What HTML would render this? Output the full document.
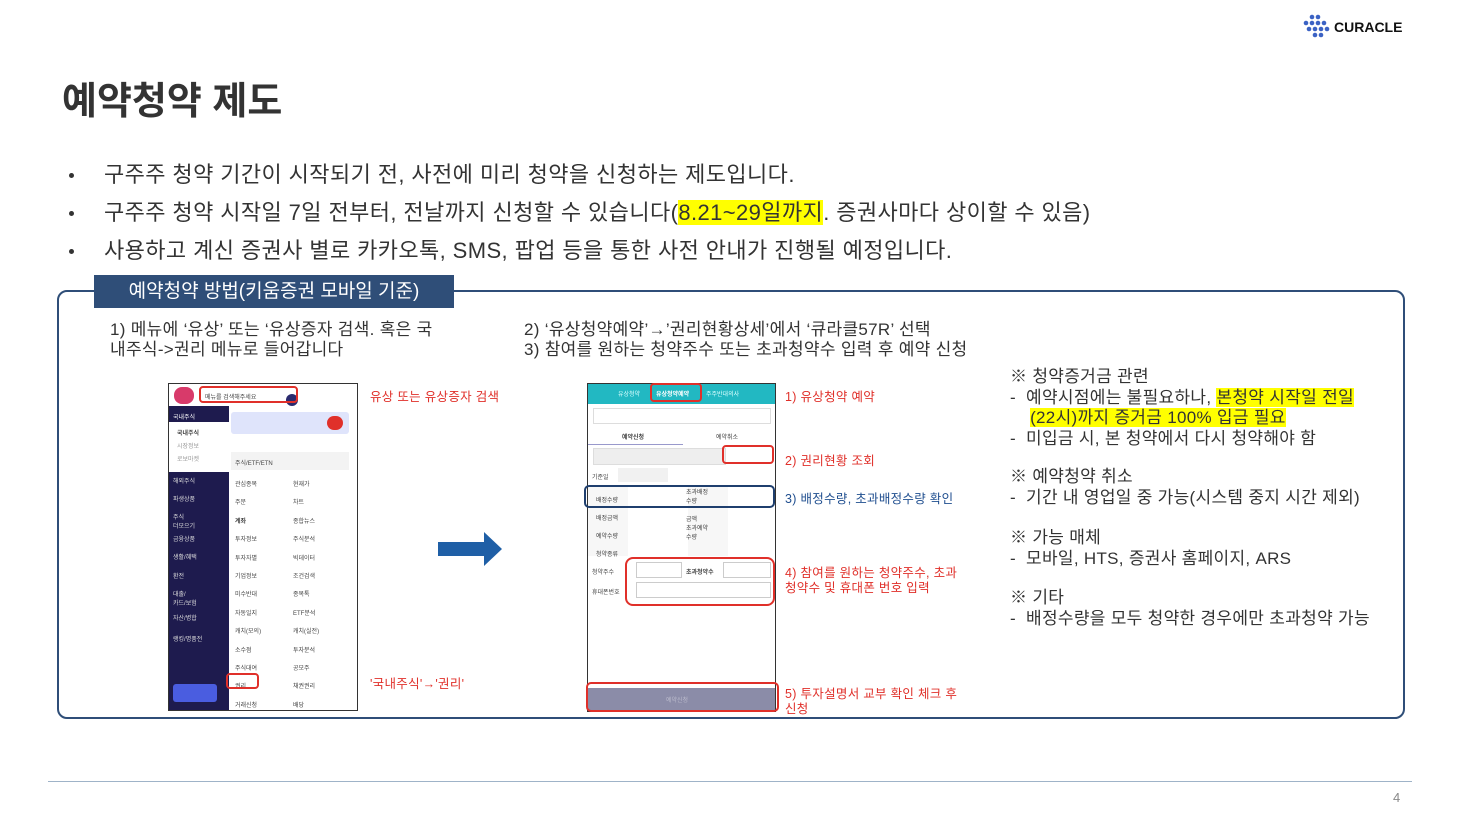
<!DOCTYPE html>
<html><head><meta charset="utf-8"><style>
*{margin:0;padding:0;box-sizing:border-box}
body{width:1461px;height:822px;background:#fff;position:relative;overflow:hidden;font-family:"Liberation Sans","Noto Sans CJK KR",sans-serif;color:#333}
.a{position:absolute;white-space:nowrap}
.b{font-size:22px;color:#333;letter-spacing:0.4px}
.dot{position:absolute;width:5px;height:5px;border-radius:50%;background:#333;left:69px}
.r{color:#e0302a;font-size:12.5px}
.t{font-size:17px;color:#333;line-height:20px}
.hl{background:#ffff00}
.red{position:absolute;border:2px solid #e0302a;border-radius:4px}
.sm{position:absolute;font-size:6px;color:#444;white-space:nowrap}
</style></head><body>
<div class="a" style="left:1302px;top:14px;">
<svg width="30" height="26" viewBox="0 0 30 26"><g fill="#3b62c4"><circle cx="10" cy="3" r="2.3"/><circle cx="16" cy="3" r="2.3"/><circle cx="4" cy="9" r="2.3"/><circle cx="10" cy="9" r="2.3"/><circle cx="16" cy="9" r="2.3"/><circle cx="22" cy="9" r="2.3"/><circle cx="7" cy="15" r="2.3"/><circle cx="13" cy="15" r="2.3"/><circle cx="19" cy="15" r="2.3"/><circle cx="25" cy="15" r="2.3"/><circle cx="13" cy="21" r="2.3"/><circle cx="19" cy="21" r="2.3"/></g></svg></div>
<div class="a" style="left:1334px;top:19px;font-size:14px;font-weight:bold;color:#111">CURACLE</div>
<div class="a" style="left:62px;top:70px;font-size:38px;font-weight:bold;color:#333">예약청약 제도</div>
<div class="dot" style="top:173px"></div>
<div class="a b" style="left:104px;top:157px">구주주 청약 기간이 시작되기 전, 사전에 미리 청약을 신청하는 제도입니다.</div>
<div class="dot" style="top:211px"></div>
<div class="a b" style="left:104px;top:195px">구주주 청약 시작일 7일 전부터, 전날까지 신청할 수 있습니다(<span class="hl">8.21~29일까지</span>. 증권사마다 상이할 수 있음)</div>
<div class="dot" style="top:249px"></div>
<div class="a b" style="left:104px;top:233px">사용하고 계신 증권사 별로 카카오톡, SMS, 팝업 등을 통한 사전 안내가 진행될 예정입니다.</div>

<div class="a" style="left:57px;top:290px;width:1348px;height:429px;border:2px solid #2f4e78;border-radius:10px"></div>
<div class="a" style="left:94px;top:275px;width:360px;height:33px;background:#2f4e78;color:#fff;font-size:19px;text-align:center;line-height:33px">예약청약 방법(키움증권 모바일 기준)</div>

<div class="a t" style="left:110px;top:320px;letter-spacing:0.3px">1) 메뉴에 ‘유상’ 또는 ‘유상증자 검색. 혹은 국<br>내주식-&gt;권리 메뉴로 들어갑니다</div>
<div class="a t" style="left:524px;top:320px;letter-spacing:0.3px">2) ‘유상청약예약’→’권리현황상세’에서 ‘큐라클57R’ 선택<br>3) 참여를 원하는 청약주수 또는 초과청약수 입력 후 예약 신청</div>

<!-- left phone -->
<div class="a" style="left:168px;top:383px;width:190px;height:328px;border:1px solid #333;background:#fff;overflow:hidden">
 <div style="position:absolute;left:5px;top:3px;width:20px;height:17px;border-radius:8px;background:#d83a6a"></div>
 <div style="position:absolute;left:0;top:22px;width:60px;height:306px;background:#1e1b4e"></div>
 <div style="position:absolute;left:0;top:38px;width:60px;height:50px;background:#fff"></div>
 <div style="position:absolute;left:62px;top:28px;width:118px;height:22px;background:#dfe4fb;border-radius:3px"></div>
 <div style="position:absolute;left:158px;top:32px;width:16px;height:14px;border-radius:7px;background:#e0302a"></div>
 <div style="position:absolute;left:62px;top:68px;width:118px;height:18px;background:#f3f3f3"></div>
 <div style="position:absolute;left:117px;top:10px;width:12px;height:12px;border-radius:6px;background:#2a2a6e"></div>
 <div class="sm" style="left:36px;top:8px">메뉴를 검색해주세요</div>
 <div class="sm" style="left:4px;top:28px;color:#fff">국내주식</div>
 <div class="sm" style="left:8px;top:44px;font-weight:bold">국내주식</div>
 <div class="sm" style="left:8px;top:57px;color:#999">시장정보</div>
 <div class="sm" style="left:8px;top:70px;color:#999">로보마켓</div>
 <div class="sm" style="left:4px;top:92px;color:#ddd">해외주식</div>
 <div class="sm" style="left:4px;top:110px;color:#ddd">파생상품</div>
 <div class="sm" style="left:4px;top:128px;color:#ddd">주식<br>더모으기</div>
 <div class="sm" style="left:4px;top:150px;color:#ddd">금융상품</div>
 <div class="sm" style="left:4px;top:168px;color:#ddd">생활/혜택</div>
 <div class="sm" style="left:4px;top:187px;color:#ddd">환전</div>
 <div class="sm" style="left:4px;top:205px;color:#ddd">대출/<br>카드/보험</div>
 <div class="sm" style="left:4px;top:229px;color:#ddd">자산/병합</div>
 <div class="sm" style="left:4px;top:250px;color:#ddd">랭킹/명품전</div>
 <div style="position:absolute;left:4px;top:300px;width:44px;height:18px;background:#4a5de0;border-radius:3px"></div>
 <div class="sm" style="left:66px;top:74px">주식/ETF/ETN</div>
 <div class="sm" style="left:66px;top:92px;line-height:18.4px">관심종목<br>주문<br><b>계좌</b><br>투자정보<br>투자자별<br>기업정보<br>미수반대<br>자동일지<br>캐치(모의)<br>소수점<br>주식대여<br>권리<br>거래신청</div>
 <div class="sm" style="left:124px;top:92px;line-height:18.4px">현재가<br>차트<br>종합뉴스<br>주식분석<br>빅데이터<br>조건검색<br>종목톡<br>ETF분석<br>캐치(실전)<br>투자분석<br>공모주<br>채권권리<br>배당</div>
</div>
<div class="red" style="left:199px;top:386px;width:99px;height:17px"></div>
<div class="red" style="left:226px;top:673px;width:33px;height:16px"></div>
<div class="a r" style="left:370px;top:386px;letter-spacing:0.3px">유상 또는 유상증자 검색</div>
<div class="a r" style="left:370px;top:673px;letter-spacing:0.3px">'국내주식'→'권리'</div>

<svg class="a" style="left:438px;top:532px" width="64" height="34"><polygon points="0,10 46,10 46,0 64,17 46,34 46,24 0,24" fill="#1f5fa6"/></svg>

<!-- right phone -->
<div class="a" style="left:587px;top:383px;width:189px;height:329px;border:1px solid #333;background:#fff;overflow:hidden">
 <div style="position:absolute;left:0;top:0;width:189px;height:20px;background:#22b8c2"></div>
 <div class="sm" style="left:30px;top:5px;color:#dff">유상청약</div>
 <div class="sm" style="left:68px;top:5px;color:#fff;font-weight:bold">유상청약예약</div>
 <div class="sm" style="left:118px;top:5px;color:#dff">주주반대의사</div>
 <div style="position:absolute;left:5px;top:24px;width:178px;height:16px;border:1px solid #ddd"></div>
 <div class="sm" style="left:34px;top:48px;font-weight:bold">예약신청</div>
 <div class="sm" style="left:128px;top:48px">예약취소</div>
 <div style="position:absolute;left:0;top:60px;width:95px;height:1px;background:#99c"></div>
 <div style="position:absolute;left:5px;top:64px;width:133px;height:17px;background:#eee;border:1px solid #ddd"></div>
 <div class="sm" style="left:4px;top:88px">기준일</div>
 <div style="position:absolute;left:30px;top:84px;width:50px;height:14px;background:#f1f1f1"></div>
 <div style="position:absolute;left:0;top:102px;width:189px;height:70px;background:#f7f7f7"></div>
 <div style="position:absolute;left:40px;top:102px;width:60px;height:70px;background:#fff"></div>
 <div style="position:absolute;left:140px;top:102px;width:49px;height:70px;background:#fff"></div>
 <div class="sm" style="left:8px;top:108px;line-height:18px">배정수량<br>배정금액<br>예약수량<br>청약종류</div>
 <div class="sm" style="left:98px;top:105px;line-height:9px">초과배정<br>수량<br><br>금액<br>초과예약<br>수량</div>
 <div class="sm" style="left:4px;top:183px">청약주수</div>
 <div class="sm" style="left:4px;top:203px">휴대폰번호</div>
 <div class="sm" style="left:98px;top:183px;font-weight:bold">초과청약수</div>
 <div style="position:absolute;left:48px;top:178px;width:46px;height:16px;border:1px solid #ccc"></div>
 <div style="position:absolute;left:135px;top:178px;width:48px;height:16px;border:1px solid #ccc"></div>
 <div style="position:absolute;left:48px;top:198px;width:135px;height:16px;border:1px solid #ccc"></div>
 <div style="position:absolute;left:0;top:304px;width:189px;height:22px;background:#8b8ca8"></div>
 <div class="sm" style="left:78px;top:311px;color:#bbc">예약신청</div>
</div>
<div class="red" style="left:650px;top:383px;width:52px;height:19px"></div>
<div class="red" style="left:722px;top:445px;width:52px;height:19px"></div>
<div class="a" style="left:584px;top:485px;width:191px;height:23px;border:2px solid #1f3f6e;border-radius:5px"></div>
<div class="red" style="left:625px;top:557px;width:150px;height:49px;border-radius:8px"></div>
<div class="red" style="left:586px;top:682px;width:193px;height:30px;border-radius:5px"></div>
<div class="a r" style="left:785px;top:386px;letter-spacing:0.3px">1) 유상청약 예약</div>
<div class="a r" style="left:785px;top:450px;letter-spacing:0.3px">2) 권리현황 조회</div>
<div class="a" style="left:785px;top:488px;font-size:12.5px;color:#1f4e8f;letter-spacing:0.3px">3) 배정수량, 초과배정수량 확인</div>
<div class="a r" style="left:785px;top:566px;line-height:15px;letter-spacing:0.3px">4) 참여를 원하는 청약주수, 초과<br>청약수 및 휴대폰 번호 입력</div>
<div class="a r" style="left:785px;top:687px;line-height:15px;letter-spacing:0.3px">5) 투자설명서 교부 확인 체크 후<br>신청</div>

<div class="a t" style="left:1010px;top:367px;line-height:20.5px;letter-spacing:0.3px">※ 청약증거금 관련<br>-&nbsp; 예약시점에는 불필요하나, <span class="hl">본청약 시작일 전일</span><br>&nbsp;&nbsp;&nbsp;&nbsp;<span class="hl">(22시)까지 증거금 100% 입금 필요</span><br>-&nbsp; 미입금 시, 본 청약에서 다시 청약해야 함</div>
<div class="a t" style="left:1010px;top:467px;line-height:20.5px;letter-spacing:0.3px">※ 예약청약 취소<br>-&nbsp; 기간 내 영업일 중 가능(시스템 중지 시간 제외)</div>
<div class="a t" style="left:1010px;top:528px;line-height:20.5px;letter-spacing:0.3px">※ 가능 매체<br>-&nbsp; 모바일, HTS, 증권사 홈페이지, ARS</div>
<div class="a t" style="left:1010px;top:588px;line-height:20.5px;letter-spacing:0.3px">※ 기타<br>-&nbsp; 배정수량을 모두 청약한 경우에만 초과청약 가능</div>

<div class="a" style="left:48px;top:781px;width:1364px;height:1px;background:#9fb3c8"></div>
<div class="a" style="left:1393px;top:790px;font-size:13px;color:#888">4</div>
</body></html>
